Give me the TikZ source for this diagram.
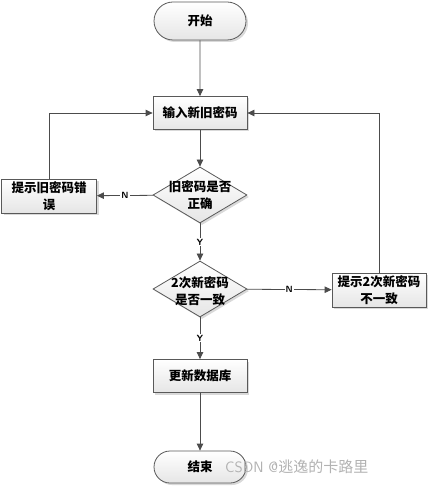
\documentclass[tikz,border=0pt]{standalone}
\usepackage{fontspec}
\newfontfamily\cjk{Noto Sans CJK SC}
\usetikzlibrary{positioning,arrows.meta,shapes,shadows}

\begin{document}
\begin{tikzpicture}[x=1pt,y=-1pt,>={Triangle[length=7pt,width=6.5pt]},
  box/.style={rectangle,draw=black!65,line width=0.8pt,top color=white,bottom color=black!10,
    drop shadow={shadow xshift=2pt,shadow yshift=-2pt,opacity=0.3},
    minimum width=94pt,minimum height=34pt,inner sep=1pt,align=center,
    font=\cjk\bfseries\fontsize{12.5}{17}\selectfont},
  term/.style={box,rounded rectangle,rounded rectangle arc length=180},
  dec/.style={box,diamond,minimum width=94pt,minimum height=56pt,inner sep=0pt},
  txt/.style={align=center,inner sep=0pt,font=\cjk\bfseries\fontsize{12.5}{17}\selectfont},
  yn/.style={fill=white,inner sep=1pt,font=\sffamily\bfseries\fontsize{9}{10}\selectfont},
  line/.style={draw=black!70,line width=0.8pt}]
     \useasboundingbox (0,0) rectangle (431,494);

     \node[term,minimum height=38pt] (start) at (200,21) {开始};
     \node[box,minimum height=33pt] (input) at (200,113) {输入新旧密码};
     \node[dec] (chk1) at (200,195) {};
     \node[txt] (chk1t) at (chk1) {旧密码是否\\正确};
     \node[box,minimum width=95pt] (errold) at (49,196) {提示旧密码错\\误};
     \node[dec] (chk2) at (200,289) {};
     \node[txt] (chk2t) at (200,291) {2次新密码\\是否一致};
     \node[box] (errnew) at (379,290) {提示2次新密码\\不一致};
     \node[box,minimum height=33pt] (update) at (200,376) {更新数据库};
     \node[term,minimum height=32pt] (stop) at (200,467) {结束};

     \node[text=black!30,font=\sffamily\fontsize{15}{15}\selectfont,anchor=west,inner sep=0pt] (mark) at (225,467) {CSDN @\cjk 逃逸的卡路里};

     \draw[line,->] (start) -- (input);
     \draw[line,->] (input) -- (chk1);
     \draw[line,->] (chk1) -- node[yn] {N} (errold);
     \draw[line,->] (chk1) -- node[yn,pos=0.5] {Y} (chk2);
     \draw[line,->] (chk2) -- node[yn] {N} (errnew);
     \draw[line,->] (chk2) -- node[yn] {Y} (update);
     \draw[line,->] (update) -- (stop);
     \draw[line,->] (errold.north) |- (input.west);
     \draw[line,->] (errnew.north) |- (input.east);
\end{tikzpicture}
\end{document}
